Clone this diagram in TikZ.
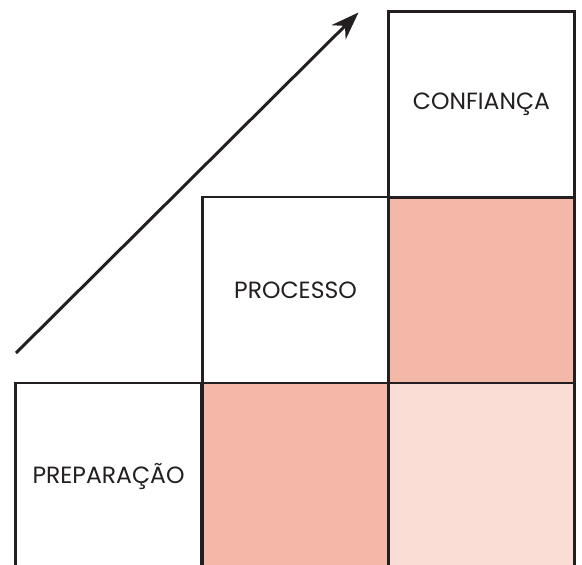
\documentclass[tikz,border=0pt]{standalone}
\usepackage{fontspec}
\setmainfont{Poppins}
\usetikzlibrary{arrows.meta}

\definecolor{rose}{HTML}{F4B8A9}
\definecolor{blush}{HTML}{FADDD5}
\definecolor{ink}{HTML}{231F20}

\begin{document}
\begin{tikzpicture}[
x=1pt,y=-1pt,
font=\fontsize{23.5}{26}\selectfont,
cell/.style={rectangle,draw=ink,line width=2.2pt,minimum size=186pt,inner sep=0pt,text=ink},
plain/.style={cell,fill=white},
strong/.style={cell,fill=rose},
soft/.style={cell,fill=blush},
arrow/.style={-{Stealth[length=28pt,width=20pt,inset=9pt]},line width=3pt,draw=ink}
]
\useasboundingbox (0,0) rectangle (582,565);

% bottom row
\node[plain] (prep) at (108.5,476) {PREPARAÇÃO};
\node[strong] (prepb) at (295.5,476) {};
\node[soft] (prepc) at (481.5,476) {};
% middle row
\node[plain] (proc) at (295.5,290) {PROCESSO};
\node[strong] (procb) at (481.5,290) {};
% top row
\node[plain] (conf) at (481.5,104.5) {CONFIANÇA};

\coordinate (start) at (16,353);
\coordinate (tip) at (358.5,12.5);
\draw[arrow] (start) -- (tip);
\end{tikzpicture}
\end{document}
